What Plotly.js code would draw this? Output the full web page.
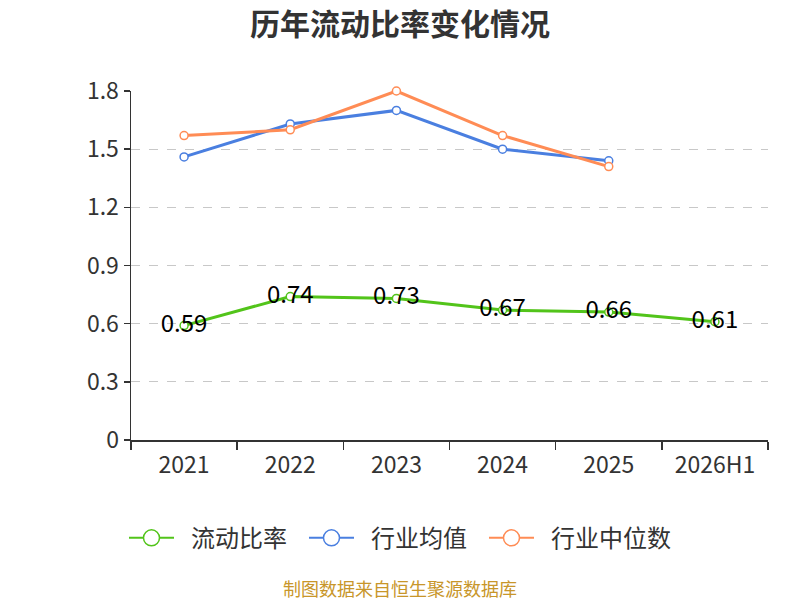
<!DOCTYPE html>
<html>
<head>
<meta charset="utf-8">
<script src="https://cdn.plot.ly/plotly-3.0.1.min.js"></script>
<style>
  html, body { margin: 0; padding: 0; background: #fff; }
  #chart { width: 800px; height: 600px; }
</style>
</head>
<body>
<div id="chart"></div>
<script>
// data
var years = ['2021', '2022', '2023', '2024', '2025', '2026H1'];
var currentRatio = [0.59, 0.74, 0.73, 0.67, 0.66, 0.61];
var industryMean = [1.46, 1.63, 1.70, 1.50, 1.44];
var industryMedian = [1.57, 1.60, 1.80, 1.57, 1.41];
var yTicks = [0, 0.3, 0.6, 0.9, 1.2, 1.5, 1.8];

var names = ['流动比率', '行业均值', '行业中位数'];
var colors = ['#52c41a', '#4a7fe0', '#ff8c55'];

var font = '"Noto Sans CJK SC", "Noto Sans", sans-serif';

function series(x, y, i, withText) {
  var t = {
    x: x,
    y: y,
    name: names[i],
    type: 'scatter',
    mode: withText ? 'lines+markers+text' : 'lines+markers',
    line: { color: colors[i], width: 3 },
    marker: { size: 8, color: '#fff', line: { color: colors[i], width: 1.5 } },
    showlegend: false,
    cliponaxis: false
  };
  if (withText) {
    t.text = y.map(function (v) { return v.toFixed(2); });
    t.textposition = 'middle center';
    t.textfont = { family: font, size: 24, color: '#000' };
  }
  return t;
}

// legend-only entries, so the legend circles can be bigger
function legendEntry(i) {
  return {
    x: [null], y: [null],
    // en spaces pad the gaps around the legend text
    name: '\u2002' + names[i] + '\u2002',
    type: 'scatter',
    mode: 'lines+markers',
    line: { color: colors[i], width: 2 },
    marker: { size: 16, color: '#fff', line: { color: colors[i], width: 1.5 } },
    showlegend: true
  };
}

var traces = [
  series(years, currentRatio, 0, true),
  series(years.slice(0, 5), industryMean, 1, false),
  series(years.slice(0, 5), industryMedian, 2, false),
  legendEntry(0), legendEntry(1), legendEntry(2)
];

var layout = {
  width: 800,
  height: 600,
  paper_bgcolor: '#fff',
  plot_bgcolor: '#fff',
  font: { family: font, color: '#333' },
  title: {
    text: '<b>历年流动比率变化情况</b>',
    font: { family: font, size: 30, color: '#333' },
    x: 0.5, xanchor: 'center',
    y: 0.96, yanchor: 'middle'
  },
  margin: { l: 131, r: 32, t: 91, b: 160 },
  xaxis: {
    type: 'category',
    range: [-0.5, 5.5],
    tickson: 'boundaries',
    ticks: 'outside',
    ticklen: 8,
    tickwidth: 1.5,
    tickcolor: '#333',
    showline: true,
    linecolor: '#333',
    linewidth: 1.5,
    showgrid: false,
    ticklabelstandoff: 4,
    tickfont: { family: font, size: 23, color: '#333' },
    fixedrange: true
  },
  yaxis: {
    range: [0, 1.8],
    tickvals: yTicks,
    ticktext: yTicks.map(function (v) { return v === 0 ? '0' : v.toFixed(1); }),
    ticks: 'outside',
    ticklen: 6,
    tickwidth: 1.5,
    tickcolor: '#333',
    showline: true,
    linecolor: '#333',
    linewidth: 1.5,
    showgrid: true,
    gridcolor: '#c8c8c8',
    griddash: 'dash',
    gridwidth: 1.2,
    zeroline: false,
    tickfont: { family: font, size: 23, color: '#333' },
    fixedrange: true
  },
  showlegend: true,
  legend: {
    orientation: 'h',
    x: 0.4317, xanchor: 'center',
    y: -0.217, yanchor: 'top',
    font: { family: font, size: 24, color: '#333' },
    itemwidth: 45
  },
  annotations: [{
    text: '制图数据来自恒生聚源数据库',
    xref: 'paper', yref: 'paper',
    x: 0.4223, xanchor: 'center',
    y: -0.425, yanchor: 'middle',
    showarrow: false,
    font: { family: font, size: 18, color: '#c8962a' }
  }]
};

Plotly.newPlot('chart', traces, layout, { displayModeBar: false, staticPlot: true });
</script>
</body>
</html>
